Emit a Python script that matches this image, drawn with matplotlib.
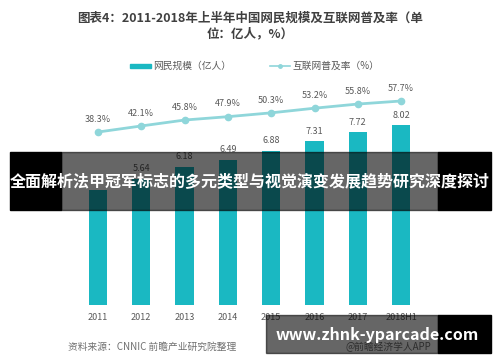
import matplotlib
matplotlib.use("Agg")
import matplotlib.pyplot as plt
from matplotlib.patches import Rectangle
from matplotlib.lines import Line2D

plt.rcParams['font.family'] = ['Noto Sans CJK SC', 'DejaVu Sans']

# data
years = ["2011", "2012", "2013", "2014", "2015", "2016", "2017", "2018H1"]
users = [5.13, 5.64, 6.18, 6.49, 6.88, 7.31, 7.72, 8.02]
rate = [38.3, 42.1, 45.8, 47.9, 50.3, 53.2, 55.8, 57.7]

W, H = 500, 362
fig = plt.figure(figsize=(W / 100, H / 100), dpi=100)
fig.patch.set_facecolor("white")

def px(x0, y0, x1, y1):
    # pixel box -> figure rect
    return [x0 / W, 1 - y1 / H, (x1 - x0) / W, (y1 - y0) / H]

bar_c = "#1ab8c2"
line_c = "#8fd6da"
txt_c = "#595959"

ax = fig.add_axes(px(76.3, 85, 422.8, 305))
xs = list(range(len(years)))
ax.bar(xs, users, width=0.42, color=bar_c, zorder=2)
# 2011 label sits under the banner in the original, so it is left out
for x, v in list(zip(xs, users))[1:]:
    ax.annotate(f"{v:.2f}", (x, v), xytext=(0, 4), textcoords="offset points",
                ha="center", va="bottom", fontsize=6.5, color=txt_c)
ax.set_xlim(-0.5, 7.5)
ax.set_ylim(0, 220 / 22.4)
ax.set_xticks(xs)
ax.set_xticklabels(years, fontsize=6.5, color=txt_c)
ax.tick_params(axis="x", length=0, pad=6)
ax.set_yticks([])
for s in ax.spines.values():
    s.set_visible(False)

ax2 = ax.twinx()
ax2.plot(xs, rate, color=line_c, lw=2, marker="o", ms=4.5,
         markerfacecolor=line_c, markeredgecolor=line_c, zorder=3)
for x, v in zip(xs, rate):
    ax2.annotate(f"{v}%", (x, v), xytext=(0, 6), textcoords="offset points",
                 ha="center", va="bottom", fontsize=6.5, color=txt_c)
ax2.set_ylim(-69.8, 67.7)
ax2.set_yticks([])
for s in ax2.spines.values():
    s.set_visible(False)

# title
fig.text(0.5, 1 - 18 / H, "图表4：2011-2018年上半年中国网民规模及互联网普及率（单",
         ha="center", va="center", fontsize=9, fontweight="bold", color="#404040")
fig.text(0.5, 1 - 34 / H, "位：亿人，%）",
         ha="center", va="center", fontsize=9, fontweight="bold", color="#404040")

# legend
fig.patches.append(Rectangle((130 / W, 1 - 68 / H), 21 / W, 4 / H,
                             transform=fig.transFigure, color=bar_c))
fig.text(153 / W, 1 - 66 / H, "网民规模（亿人）", ha="left", va="center",
         fontsize=7, color=txt_c)
fig.lines.append(Line2D([270 / W, 290 / W], [1 - 66 / H, 1 - 66 / H],
                        transform=fig.transFigure, color=line_c, lw=1.2))
fig.lines.append(Line2D([280 / W], [1 - 66 / H], transform=fig.transFigure,
                        color=line_c, marker="o", ms=2.5))
fig.text(292 / W, 1 - 66 / H, "互联网普及率（%）", ha="left", va="center",
         fontsize=7, color=txt_c)

# source
fig.text(68 / W, 1 - 347 / H, "资料来源：CNNIC 前瞻产业研究院整理", ha="left",
         va="center", fontsize=7, color="#707070", style="italic")
fig.text(345 / W, 1 - 347 / H, "@前瞻经济学人APP", ha="left", va="center",
         fontsize=7, color="#707070")

# overlay banner
fig.patches.append(Rectangle((61 / W, 1 - 210 / H), (438 - 61) / W, 58 / H,
                             transform=fig.transFigure, color="black", alpha=0.6, zorder=5))
fig.patches.append(Rectangle((10 / W, 1 - 210 / H), 51 / W, 58 / H,
                             transform=fig.transFigure, color="black", zorder=5))
fig.patches.append(Rectangle((438 / W, 1 - 210 / H), 53 / W, 58 / H,
                             transform=fig.transFigure, color="black", zorder=5))
fig.text(250 / W, 1 - 181 / H, "全面解析法甲冠军标志的多元类型与视觉演变发展趋势研究深度探讨",
         ha="center", va="center", fontsize=11.5, fontweight="bold", color="white", zorder=6)

# bottom watermark box
fig.patches.append(Rectangle((266 / W, 1 - 353 / H), (438 - 266) / W, 38 / H,
                             transform=fig.transFigure, color="black", alpha=0.6, zorder=5))
fig.patches.append(Rectangle((438 / W, 1 - 353 / H), 53 / W, 38 / H,
                             transform=fig.transFigure, color="black", zorder=5))
fig.text(377 / W, 1 - 335 / H, "www.zhnk-yparcade.com", ha="center", va="center",
         fontsize=11.5, fontweight="bold", color="white", zorder=6)

fig.savefig("out.png", dpi=100)
